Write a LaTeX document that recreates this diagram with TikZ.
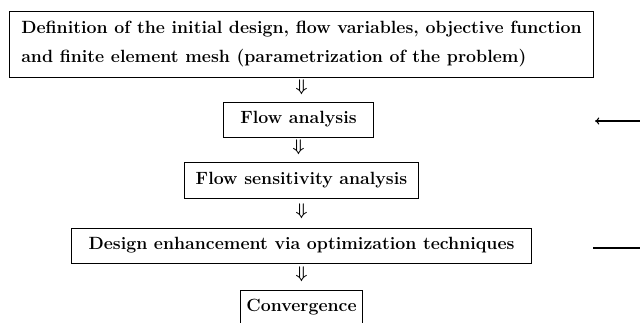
\documentclass[tikz,border=0pt]{standalone}
\usetikzlibrary{arrows.meta}
\begin{document}
\begin{tikzpicture}[x=0.025cm,y=-0.025cm,
  box/.style={draw,line width=0.7pt,inner sep=0pt,align=left,
    font=\fontsize{12.6}{20.6}\selectfont\bfseries},
  dn/.style={font=\fontsize{12.6}{14}\selectfont\boldmath},
  fb/.style={line width=0.8pt}]
\useasboundingbox (0,0) rectangle (640,323);
\clip (0,0) rectangle (640,323);
\node[box,minimum width=14.575cm,minimum height=1.65cm] (def) at (301.5,44)
  {Definition of the initial design, flow variables, objective function\\
   and finite element mesh (parametrization of the problem)};
\node[box,minimum width=3.725cm,minimum height=0.875cm] (flow) at (298.5,119.5) {Flow analysis};
\node[box,minimum width=5.825cm,minimum height=0.9cm] (sens) at (301.5,180) {Flow sensitivity analysis};
\node[box,minimum width=11.475cm,minimum height=0.875cm] (des) at (301.5,245.5) {Design enhancement via optimization techniques};
\node[box,minimum width=3.025cm,minimum height=0.875cm] (conv) at (301.5,307.5) {Convergence};
\path (def.south) -- node[dn,yshift=1.5pt] {$\Downarrow$} (def.south |- flow.north);
\path (flow.south) -- node[dn,yshift=1.5pt] {$\Downarrow$} (flow.south |- sens.north);
\path (sens.south) -- node[dn,yshift=1.5pt] {$\Downarrow$} (sens.south |- des.north);
\path (des.south) -- node[dn,yshift=1.5pt] {$\Downarrow$} (des.south |- conv.north);
\coordinate (fbinA) at (640,121);
\coordinate (fbinB) at (595,121);
\coordinate (fboutA) at (593,248);
\coordinate (fboutB) at (640,248);
\draw[fb,-{To[length=3pt,width=5pt]}] (fbinA) -- (fbinB);
\draw[fb] (fboutA) -- (fboutB);
\end{tikzpicture}
\end{document}
